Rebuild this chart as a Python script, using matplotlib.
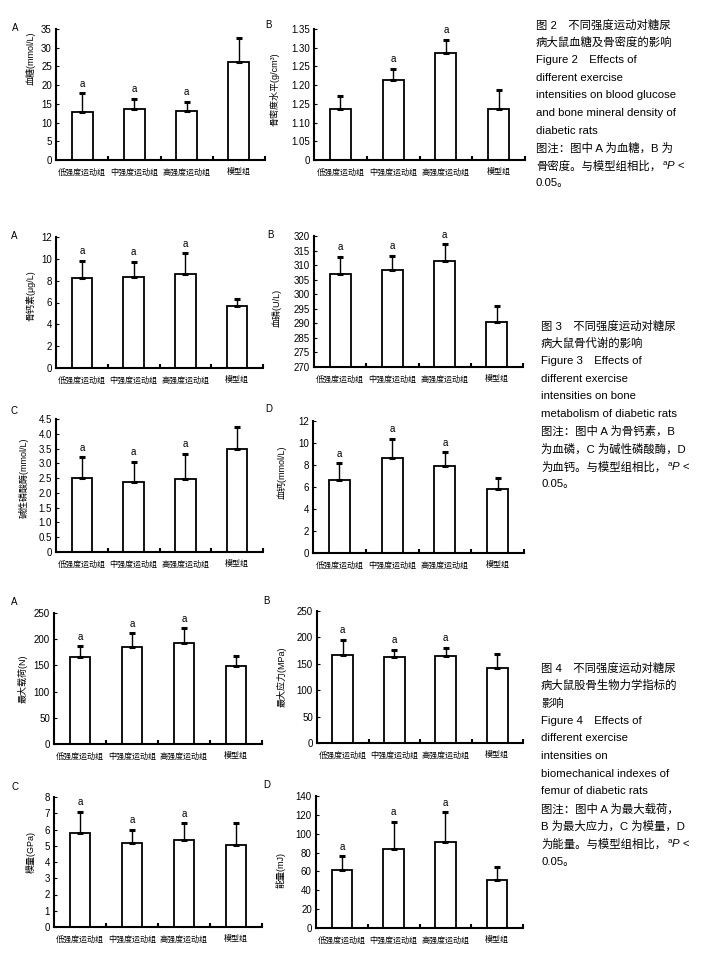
import numpy as np
import matplotlib
matplotlib.use("Agg")
import matplotlib.pyplot as plt

plt.rcParams['font.family'] = ['Liberation Sans', 'Noto Sans CJK SC']
plt.rcParams['mathtext.fontset'] = 'custom'
plt.rcParams['mathtext.rm'] = 'Liberation Sans'
plt.rcParams['mathtext.it'] = 'Liberation Sans:italic'

groups = ['低强度运动组', '中强度运动组', '高强度运动组', '模型组']

# figure 2
glucose = [12.8, 13.6, 13.2, 26.3]
glucose_err = [5.0, 2.7, 2.3, 6.3]
bmd = [1.136, 1.213, 1.286, 1.136]
bmd_err = [0.036, 0.031, 0.035, 0.052]

# figure 3
osteocalcin = [8.2, 8.3, 8.57, 5.65]
osteocalcin_err = [1.62, 1.43, 1.92, 0.67]
phosphorus = [306.8, 308.2, 311.3, 290.3]
phosphorus_err = [6.1, 5.1, 5.8, 5.7]
alp = [2.49, 2.36, 2.46, 3.48]
alp_err = [0.71, 0.68, 0.85, 0.75]
calcium = [6.6, 8.6, 7.87, 5.79]
calcium_err = [1.54, 1.75, 1.27, 1.06]

# figure 4
max_load = [166.7, 185.1, 193.4, 148.9]
max_load_err = [19.7, 26.1, 27.3, 18.4]
max_stress = [166.5, 163.3, 164.6, 142.4]
max_stress_err = [29.1, 13.3, 15.8, 26.6]
modulus = [5.8, 5.14, 5.37, 5.04]
modulus_err = [1.28, 0.84, 1.0, 1.37]
energy = [62.0, 83.3, 91.5, 51.4]
energy_err = [13.9, 29.5, 31.2, 12.8]

W, H = 709, 964
fig = plt.figure(figsize=(W / 100, H / 100), dpi=100)


def add_panel(box, vals, errs, sig, ylim, yticks, ylabels, ylabel, label_pos, letter, letter_xy):
    l, t, r, b = box
    ax = fig.add_axes([l / W, 1 - b / H, (r - l) / W, (b - t) / H])
    x = np.arange(len(vals))
    ax.bar(x, np.array(vals) - ylim[0], bottom=ylim[0], width=0.4, color='white',
           edgecolor='black', linewidth=1.3, zorder=2)
    ax.errorbar(x, vals, yerr=[np.zeros(len(errs)), errs], fmt='none', ecolor='black',
                elinewidth=1.0, capsize=2.2, capthick=2.2, zorder=3)
    for i, s in enumerate(sig):
        if s:
            ax.annotate('a', (x[i], vals[i] + errs[i]), xytext=(0, 7), textcoords='offset points',
                        ha='center', va='center', fontsize=7)
    ax.set_xlim(-0.5, 3.5)
    ax.set_ylim(*ylim)
    ax.set_xticks(x)
    ax.set_xticklabels(groups, fontsize=5.8)
    ax.set_xticks([0.5, 1.5, 2.5, 3.5], minor=True)
    ax.tick_params(axis='x', which='major', length=0, pad=6)
    ax.tick_params(axis='x', which='minor', direction='in', length=3, width=1.5)
    ax.set_yticks(yticks)
    ax.set_yticklabels(ylabels, fontsize=7)
    ax.tick_params(axis='y', direction='in', length=2, width=0.8, pad=3)
    for sp in ['top', 'right']:
        ax.spines[sp].set_visible(False)
    for sp in ['left', 'bottom']:
        ax.spines[sp].set_linewidth(1.5)
    ax.set_ylabel(ylabel, fontsize=6.5)
    ax.yaxis.set_label_coords(label_pos[0] + 0.02, label_pos[1])
    fig.text(letter_xy[0] / W, 1 - letter_xy[1] / H, letter, fontsize=7, ha='center', va='center')
    return ax


def fmt(vals, dec):
    return ['0' if v == 0 else f'{v:.{dec}f}' for v in vals]


t = np.arange(0, 36, 5)
add_panel((56, 29, 265, 160), glucose, glucose_err, [1, 1, 1, 0], (0, 35), t, fmt(t, 0),
          '血糖(mmol/L)', (-0.118, 0.78), 'A', (15, 28))
t = np.arange(1.0, 1.351, 0.05)
add_panel((314, 29, 525, 160), bmd, bmd_err, [0, 1, 1, 0], (1.0, 1.35), t,
          ['0', '1.05', '1.10', '1.25', '1.20', '1.25', '1.30', '1.35'],
          '骨密度水平(g/cm³)', (-0.185, 0.54), 'B', (268, 25))

t = np.arange(0, 13, 2)
add_panel((56, 237, 263, 368), osteocalcin, osteocalcin_err, [1, 1, 1, 0], (0, 12), t, fmt(t, 0),
          '骨钙素(μg/L)', (-0.118, 0.55), 'A', (14, 236))
t = np.arange(275, 321, 5)
add_panel((314, 236, 523, 367), phosphorus, phosphorus_err, [1, 1, 1, 0], (275, 320), t,
          ['270', '275', '285', '290', '295', '300', '305', '310', '315', '320'],
          '血磷(U/L)', (-0.176, 0.45), 'B', (270, 235))
t = np.arange(0, 4.51, 0.5)
add_panel((56, 419, 263, 552), alp, alp_err, [1, 1, 1, 0], (0, 4.5), t, fmt(t, 1),
          '碱性磷酸酶(mmol/L)', (-0.15, 0.56), 'C', (14, 411))
t = np.arange(0, 13, 2)
add_panel((313, 421, 524, 553), calcium, calcium_err, [1, 1, 1, 0], (0, 12), t, fmt(t, 0),
          '血钙(mmol/L)', (-0.146, 0.61), 'D', (269, 409))

t = np.arange(0, 251, 50)
add_panel((54, 613, 262, 744), max_load, max_load_err, [1, 1, 1, 0], (0, 250), t, fmt(t, 0),
          '最大载荷(N)', (-0.149, 0.5), 'A', (14, 602))
add_panel((317, 611, 523, 743), max_stress, max_stress_err, [1, 1, 1, 0], (0, 250), t, fmt(t, 0),
          '最大应力(MPa)', (-0.17, 0.5), 'B', (266, 601))
t = np.arange(0, 9, 1)
add_panel((54, 797, 262, 927), modulus, modulus_err, [1, 1, 1, 0], (0, 8), t, fmt(t, 0),
          '模量(GPa)', (-0.106, 0.58), 'C', (15, 787))
t = np.arange(0, 141, 20)
add_panel((316, 796, 523, 928), energy, energy_err, [1, 1, 1, 0], (0, 140), t, fmt(t, 0),
          '能量(mJ)', (-0.165, 0.44), 'D', (267, 785))

# captions
cap2 = ['图 2　不同强度运动对糖尿', '病大鼠血糖及骨密度的影响', 'Figure 2　Effects of',
        'different exercise', 'intensities on blood glucose', 'and bone mineral density of',
        'diabetic rats', '图注：图中 A 为血糖，B 为', '骨密度。与模型组相比，']
cap3 = ['图 3　不同强度运动对糖尿', '病大鼠骨代谢的影响', 'Figure 3　Effects of',
        'different exercise', 'intensities on bone', 'metabolism of diabetic rats',
        '图注：图中 A 为骨钙素，B', '为血磷，C 为碱性磷酸酶，D', '为血钙。与模型组相比，']
cap4 = ['图 4　不同强度运动对糖尿', '病大鼠股骨生物力学指标的', '影响', 'Figure 4　Effects of',
        'different exercise', 'intensities on', 'biomechanical indexes of',
        'femur of diabetic rats', '图注：图中 A 为最大载荷，', 'B 为最大应力，C 为模量，D',
        '为能量。与模型组相比，']

fig.canvas.draw()
renderer = fig.canvas.get_renderer()


def caption(lines, x0, y0, dy=17.6, fs=8.2):
    last = None
    for i, s in enumerate(lines):
        last = fig.text(x0 / W, 1 - (y0 + i * dy) / H, s, fontsize=fs, ha='left', va='center')
    bb = last.get_window_extent(renderer=renderer)
    fig.text((bb.x1 + 1) / W, 1 - (y0 + (len(lines) - 1) * dy) / H, '$^{\\mathrm{a}}P$ <',
             fontsize=fs, ha='left', va='center')
    fig.text(x0 / W, 1 - (y0 + len(lines) * dy) / H, '0.05。', fontsize=fs, ha='left', va='center')


caption(cap2, 536, 25)
caption(cap3, 541, 326)
caption(cap4, 541, 668)

fig.savefig('out.png', dpi=100)
